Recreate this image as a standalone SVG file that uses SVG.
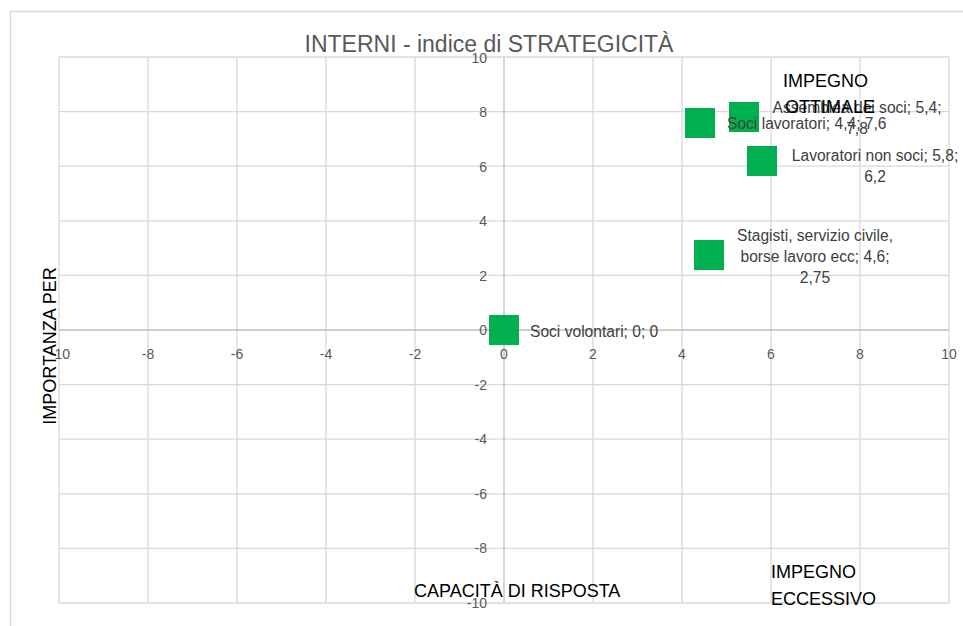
<svg xmlns="http://www.w3.org/2000/svg" width="963" height="626" viewBox="0 0 963 626">
<style>
.grid{stroke:#d9d9d9;stroke-width:1.3;fill:none}
.axis{stroke:#bfbfbf;stroke-width:1.3}
.tick{font-family:"Liberation Sans",Arial,sans-serif;font-size:14px;fill:#595959}
.lbl{font-family:"Liberation Sans",Arial,sans-serif;font-size:15.6px;fill:#404040}
.big{font-family:"Liberation Sans",Arial,sans-serif;font-size:18px;fill:#000}
.title{font-family:"Liberation Sans",Arial,sans-serif;font-size:23px;fill:#595959}
.pt{fill:#00b050}
</style>
<rect x="0" y="0" width="963" height="626" fill="#fff"/>
<path d="M10.5 626V11.5H963" stroke="#d9d9d9" stroke-width="1.3" fill="none"/>
<g id="grid">
<path class="grid" d="M59 57V603M148 57V603M237 57V603M326 57V603M415 57V603M593 57V603M682 57V603M771 57V603M860 57V603M949 57V603"/>
<path class="grid" d="M59 57H949M59 111.6H949M59 166.2H949M59 220.8H949M59 275.4H949M59 384.6H949M59 439.2H949M59 493.8H949M59 548.4H949M59 603H949"/>
<path class="axis" d="M504 57V603M59 330H949"/>
</g>
<text class="title" x="489" y="52" text-anchor="middle">INTERNI - indice di STRATEGICITÀ</text>
<g id="yticks" class="tick" text-anchor="end">
<text x="487" y="63">10</text>
<text x="487" y="117">8</text>
<text x="487" y="172">6</text>
<text x="487" y="226">4</text>
<text x="487" y="281">2</text>
<text x="487" y="335">0</text>
<text x="487" y="390">-2</text>
<text x="487" y="444">-4</text>
<text x="487" y="499">-6</text>
<text x="487" y="553">-8</text>
<text x="487" y="608">-10</text>
</g>
<g id="xticks" class="tick" text-anchor="middle">
<text x="60" y="359">-10</text>
<text x="148" y="359">-8</text>
<text x="237" y="359">-6</text>
<text x="326" y="359">-4</text>
<text x="415" y="359">-2</text>
<text x="504" y="359">0</text>
<text x="593" y="359">2</text>
<text x="682" y="359">4</text>
<text x="771" y="359">6</text>
<text x="860" y="359">8</text>
<text x="949" y="359">10</text>
</g>
<g id="p-volontari">
<rect class="pt" x="489" y="315" width="30" height="30"/>
<text class="lbl" x="530" y="337">Soci volontari; 0; 0</text>
</g>
<g id="p-stagisti">
<rect class="pt" x="694" y="240" width="30" height="30"/>
<text class="lbl" text-anchor="middle"><tspan x="815" y="241">Stagisti, servizio civile,</tspan><tspan x="815" y="262">borse lavoro ecc; 4,6;</tspan><tspan x="815" y="283">2,75</tspan></text>
</g>
<g id="p-soci-lavoratori">
<rect class="pt" x="685" y="108" width="30" height="30"/>
</g>
<g id="p-assemblea">
<rect class="pt" x="729" y="102" width="30" height="30"/>
<text class="lbl" text-anchor="middle"><tspan x="857" y="113">Assemblea dei soci; 5,4;</tspan><tspan x="857" y="134">7,8</tspan></text>
</g>
<text class="lbl" x="727" y="129">Soci lavoratori; 4,4; 7,6</text>
<g id="p-lavoratori-non-soci">
<rect class="pt" x="747" y="146" width="30" height="30"/>
<text class="lbl" text-anchor="middle"><tspan x="875" y="161">Lavoratori non soci; 5,8;</tspan><tspan x="875" y="182">6,2</tspan></text>
</g>
<g id="labels" class="big">
<text x="783" y="87">IMPEGNO</text>
<text x="785" y="113">OTTIMALE</text>
<text x="771" y="578">IMPEGNO</text>
<text x="771" y="605">ECCESSIVO</text>
<text x="414" y="597">CAPACITÀ DI RISPOSTA</text>
<text transform="translate(56 346) rotate(-90)" text-anchor="middle">IMPORTANZA PER</text>
</g>
</svg>
